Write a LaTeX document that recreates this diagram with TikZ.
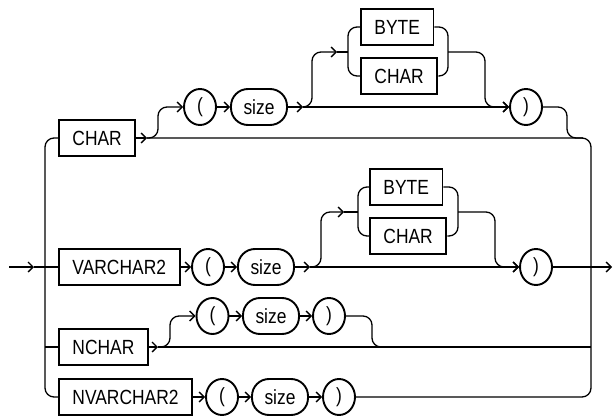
\documentclass[tikz,border=0pt]{standalone}
\usepackage{fontspec}
\setmainfont{Liberation Sans}[FakeStretch=0.85]
\definecolor{railInk}{RGB}{0,0,0}
\newcommand{\railfont}{\fontsize{20.5}{24}\selectfont}
\usetikzlibrary{arrows.meta,shapes.geometric}

\begin{document}
\begin{tikzpicture}[x=1pt, y=-1pt,
    rail/.style={draw=railInk, line width=1.3pt},
    go/.style={rail, -{Straight Barb[length=5pt,width=10pt]}},
    rc/.style={rounded corners=9pt},
    kw/.style={rectangle, draw=railInk, line width=1.9pt, minimum height=36pt,
               inner xsep=13.5pt, inner ysep=0pt, anchor=west, font=\railfont},
    sym/.style={ellipse, draw=railInk, line width=1.9pt, minimum width=32pt,
                minimum height=36pt, inner sep=0pt, font=\railfont},
    var/.style={rectangle, rounded corners=17pt, draw=railInk, line width=1.9pt,
                minimum width=56pt, minimum height=36pt, inner sep=0pt, font=\railfont}
  ]
  \useasboundingbox (0,0) rectangle (613,417);

  \node[kw]  (cBox)   at (58,138)  {CHAR};
  \node[sym] (cOpen)  at (200,107) {(};
  \node[var] (cSize)  at (259,107) {size};
  \node[kw]  (cByte)  at (360,27)  {BYTE};
  \node[kw]  (cChar)  at (360,76)  {CHAR};
  \node[sym] (cClose) at (526,107) {)};

  \node[kw]  (vBox)   at (58,267)  {VARCHAR2};
  \node[sym] (vOpen)  at (208,267) {(};
  \node[var] (vSize)  at (266,267) {size};
  \node[kw]  (vByte)  at (369,187) {BYTE};
  \node[kw]  (vChar)  at (369,236) {CHAR};
  \node[sym] (vClose) at (536,267) {)};

  \node[kw]  (nBox)   at (58,347)  {NCHAR};
  \node[sym] (nOpen)  at (212.5,316) {(};
  \node[var] (nSize)  at (271,316) {size};
  \node[sym] (nClose) at (329,316) {)};

  \node[kw]  (nvBox)   at (58,397)  {NVARCHAR2};
  \node[sym] (nvOpen)  at (222,397) {(};
  \node[var] (nvSize)  at (280,397) {size};
  \node[sym] (nvClose) at (339,397) {)};

  \coordinate (start)  at (9,267);
  \coordinate (inTip)  at (34,267);
  \coordinate (finish) at (612,267);
  \coordinate (lTop) at (45,138);
  \coordinate (lMid) at (45,347);
  \coordinate (lBot) at (45,397);
  \coordinate (rTop) at (591,138);
  \coordinate (rMid) at (591,347);
  \coordinate (rBot) at (591,397);

  \coordinate (cBr)  at (147,138);
  \coordinate (cUp)  at (158,107);
  \coordinate (cBr2) at (303,107);
  \coordinate (cbUp) at (312,52);
  \coordinate (cbIn) at (337,52);
  \coordinate (cbL)  at (348,52);
  \coordinate (cbR)  at (448,52);
  \coordinate (cbDn) at (485,107);
  \coordinate (cDn)  at (567,138);
  \coordinate (cJoin) at (583,138);

  \coordinate (vBr2) at (310,267);
  \coordinate (vbUp) at (321,212);
  \coordinate (vbIn) at (344,212);
  \coordinate (vbL)  at (358,212);
  \coordinate (vbR)  at (458,212);
  \coordinate (vbDn) at (495,267);

  \coordinate (nBr)  at (158,347);
  \coordinate (nUp)  at (170,316);
  \coordinate (nDn)  at (372,347);
  \coordinate (nJoin) at (386,347);

  % outer rails
  \draw[go] (start) -- (inTip);
  \draw[rail] (inTip) -- (vBox.west);
  \draw[rail, rc] (cBox.west) -- (lTop) -- (lBot) -- (nvBox.west);
  \draw[rail] (lMid) -- (nBox.west);
  \draw[rail, rc] (cBr) -- (rTop) -- (rBot) -- (nvClose.east);
  \draw[go] (vClose.east) -- (finish);

  % CHAR
  \draw[go] (cBox.east) -- (cBr);
  \draw[go, rc] (cBr) -| (cUp) -- (cOpen.west);
  \draw[go] (cOpen.east) -- (cSize.west);
  \draw[go] (cSize.east) -- (cBr2);
  \draw[go, rc] (cBr2) -| (cbUp) -- (cbIn);
  \draw[rail] (cbIn) -- (cbL);
  \draw[rail, rc] (cByte.west) -| (cbL) |- (cChar.west);
  \draw[rail, rc] (cByte.east) -| (cbR) |- (cChar.east);
  \draw[go, rc] (cbR) -| (cbDn) -- (cClose.west);
  \draw[go] (cBr2) -- (cClose.west);
  \draw[rail, rc] (cClose.east) -| (cDn) -- (cJoin);

  % VARCHAR2
  \draw[go] (vBox.east) -- (vOpen.west);
  \draw[go] (vOpen.east) -- (vSize.west);
  \draw[go] (vSize.east) -- (vBr2);
  \draw[go, rc] (vBr2) -| (vbUp) -- (vbIn);
  \draw[rail] (vbIn) -- (vbL);
  \draw[rail, rc] (vByte.west) -| (vbL) |- (vChar.west);
  \draw[rail, rc] (vByte.east) -| (vbR) |- (vChar.east);
  \draw[go, rc] (vbR) -| (vbDn) -- (vClose.west);
  \draw[go] (vBr2) -- (vClose.west);

  % NCHAR
  \draw[go] (nBox.east) -- (nBr);
  \draw[rail] (nBr) -- (rMid);
  \draw[go, rc] (nBr) -| (nUp) -- (nOpen.west);
  \draw[go] (nOpen.east) -- (nSize.west);
  \draw[go] (nSize.east) -- (nClose.west);
  \draw[rail, rc] (nClose.east) -| (nDn) -- (nJoin);

  % NVARCHAR2
  \draw[go] (nvBox.east) -- (nvOpen.west);
  \draw[go] (nvOpen.east) -- (nvSize.west);
  \draw[go] (nvSize.east) -- (nvClose.west);
\end{tikzpicture}
\end{document}
